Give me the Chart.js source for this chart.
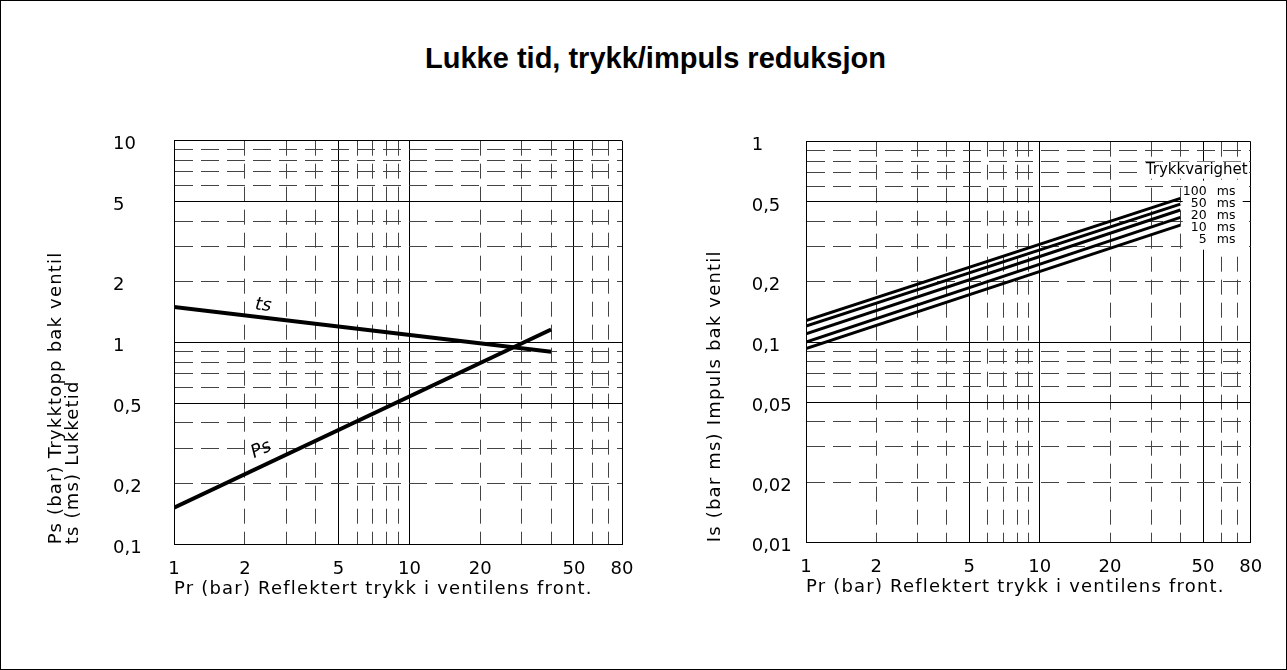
<!DOCTYPE html>
<html>
<head>
<meta charset="utf-8">
<script src="https://cdn.jsdelivr.net/npm/chart.js@4/dist/chart.umd.min.js"></script>
<style>
html, body { margin: 0; padding: 0; background: #fff; }
#frame { position: relative; width: 1287px; height: 670px; box-sizing: border-box; border: 1px solid #000; overflow: hidden; background: #fff; }
#title { position: absolute; left: 24px; top: 40px; width: 1261px; text-align: center; font: bold 29px 'Liberation Sans', Arial, sans-serif; color: #000; line-height: 34px; }
.wrap { position: absolute; }
canvas { display: block; }
</style>
</head>
<body>
<div id="frame">
  <div id="title">Lukke tid, trykk/impuls reduksjon</div>
  <div class="wrap" style="left:29px; top:99px;"><canvas id="leftChart" width="630" height="540"></canvas></div>
  <div class="wrap" style="left:659px; top:99px;"><canvas id="rightChart" width="626" height="540"></canvas></div>
</div>
<script>
// ---------------- DATA ----------------
// x: Pr (bar) Reflektert trykk i ventilens front.
const prPoints = [1, 40];
// left chart
const tsValues = [1.5, 0.9];     // ts (ms) Lukketid
const psValues = [0.152, 1.16];  // Ps (bar) Trykktopp bak ventil
// right chart: Is (bar ms) Impuls bak ventil, per Trykkvarighet
const impulsSeries = ['100 ms', '50 ms', '20 ms', '10 ms', '5 ms'];
const impuls100 = [0.128, 0.521];
const impuls50 = [0.120, 0.488];
const impuls20 = [0.110, 0.456];
const impuls10 = [0.100, 0.419];
const impuls5 = [0.0927, 0.383];

// tick / grid values
const xGrid = [1, 2, 3, 4, 5, 6, 7, 8, 9, 10, 20, 30, 40, 50, 60, 70, 80];
const xTickLabels = [1, 2, 5, 10, 20, 50, 80];
const xSolid = [1, 5, 10, 50, 80];
const yLeftGrid = [0.1, 0.2, 0.3, 0.4, 0.5, 0.6, 0.7, 0.8, 0.9, 1, 2, 3, 4, 5, 6, 7, 8, 9, 10];
const yLeftLabels = [0.1, 0.2, 0.5, 1, 2, 5, 10];
const yLeftSolid = [0.1, 0.5, 1, 5, 10];
const yRightGrid = [0.01, 0.02, 0.03, 0.04, 0.05, 0.06, 0.07, 0.08, 0.09, 0.1, 0.2, 0.3, 0.4, 0.5, 0.6, 0.7, 0.8, 0.9, 1];
const yRightLabels = [0.01, 0.02, 0.05, 0.1, 0.2, 0.5, 1];
const yRightSolid = [0.01, 0.05, 0.1, 0.5, 1];

const xTitle = 'Pr (bar) Reflektert trykk i ventilens front.';
const yLeftTitle = ['Ps (bar) Trykktopp bak ventil', 'ts (ms) Lukketid'];
const yRightTitle = 'Is (bar ms) Impuls bak ventil';
const legendTitle = 'Trykkvarighet';

// ---------------- HELPERS ----------------
const FAMILY = "'DejaVu Sans', sans-serif";
const FS = 18;
const fmt = v => String(v).replace('.', ',');
const near = (arr, v) => arr.some(a => Math.abs(a - v) <= Math.abs(a) * 1e-6);

function logAxis(min, max, gridVals, labelVals, solidVals, dash, extra) {
  return Object.assign({
    type: 'logarithmic',
    min: min, max: max,
    afterBuildTicks: ax => { ax.ticks = gridVals.map(v => ({ value: v })); },
    grid: {
      display: true,
      drawTicks: false,
      lineWidth: 1,
      color: c => (c.tick && near(solidVals, c.tick.value)) ? '#000' : '#444'
    },
    border: {
      display: true, color: '#000', width: 1,
      dash: c => (c.tick && !near(solidVals, c.tick.value)) ? dash : []
    },
    ticks: {
      z: 1,
      autoSkip: false, maxRotation: 0, minRotation: 0, color: '#000',
      font: { family: FAMILY, size: FS },
      callback: v => near(labelVals, v) ? fmt(v) : ''
    }
  }, extra || {});
}

function titleAxis(text, width, padTop, lineHeight) {
  return {
    type: 'linear', position: 'left', weight: 1, display: true,
    grid: { display: false, drawTicks: false },
    border: { display: false },
    ticks: { display: false },
    title: {
      display: true, text: text, align: 'start', color: '#000',
      font: { family: FAMILY, size: FS, lineHeight: lineHeight },
      padding: { top: padTop, bottom: 0 }
    },
    afterFit: ax => { ax.width = width; }
  };
}

function xAxis() {
  const a = logAxis(1, 80, xGrid, xTickLabels, xSolid, [15, 8], {
    position: 'bottom',
    title: {
      display: true, text: xTitle, align: 'start', color: '#000',
      font: { family: FAMILY, size: FS },
      padding: { top: 0, bottom: 4.5 }
    },
    afterFit: ax => { ax.height = 60; }
  });
  a.ticks.padding = 14;
  return a;
}

function yAxis(min, max, gridVals, labelVals, solidVals, width) {
  const a = logAxis(min, max, gridVals, labelVals, solidVals, [18, 8], {
    position: 'left', weight: 0,
    afterFit: ax => { ax.width = width; }
  });
  a.ticks.crossAlign = 'far';
  a.ticks.labelOffset = 4;
  return a;
}

// axis titles are drawn (grid layer) with wider letter spacing, tick labels without
const spacingPlugin = {
  id: 'spacing',
  beforeDraw(chart) { try { chart.ctx.letterSpacing = '1.2px'; } catch (e) {} },
  afterDatasetsDraw(chart) { try { chart.ctx.letterSpacing = '0px'; } catch (e) {} }
};

const curveLabelPlugin = {
  id: 'curveLabels',
  afterDatasetsDraw(chart) {
    const { ctx, scales: { x, y } } = chart;
    const labels = [
      { text: 'ts', values: tsValues, at: 2.36, off: 12 },
      { text: 'Ps', values: psValues, at: 2.5, off: 15 }
    ];
    ctx.save();
    try { ctx.letterSpacing = '0px'; } catch (e) {}
    ctx.font = "italic 18px " + FAMILY;
    ctx.fillStyle = '#000';
    ctx.textAlign = 'center';
    ctx.textBaseline = 'middle';
    labels.forEach(lab => {
      const x0 = x.getPixelForValue(prPoints[0]), y0 = y.getPixelForValue(lab.values[0]);
      const x1 = x.getPixelForValue(prPoints[1]), y1 = y.getPixelForValue(lab.values[1]);
      const ang = Math.atan2(y1 - y0, x1 - x0);
      const px = x.getPixelForValue(lab.at);
      const py = y0 + (px - x0) / (x1 - x0) * (y1 - y0);
      ctx.save();
      ctx.translate(px + Math.sin(ang) * lab.off, py - Math.cos(ang) * lab.off);
      ctx.rotate(ang);
      ctx.fillText(lab.text, 0, 0);
      ctx.restore();
    });
    ctx.restore();
  }
};

const durationLegendPlugin = {
  id: 'durationLegend',
  beforeDatasetsDraw(chart) {
    const { ctx, chartArea: a } = chart;
    ctx.save();
    try { ctx.letterSpacing = '0px'; } catch (e) {}
    ctx.fillStyle = '#fff';
    ctx.fillRect(a.right - 110, a.top + 20, 108, 17);
    ctx.fillRect(a.right - 68, a.top + 39, 60, 69);
    ctx.fillStyle = '#000';
    ctx.textBaseline = 'middle';
    ctx.font = "15px " + FAMILY;
    ctx.textAlign = 'right';
    ctx.fillText(legendTitle, a.right - 3, a.top + 28);
    ctx.font = "12.5px " + FAMILY;
    impulsSeries.forEach((name, i) => {
      const parts = name.split(' ');
      const yy = a.top + 50 + i * 12.1;
      ctx.textAlign = 'right';
      ctx.fillText(parts[0], a.right - 44, yy);
      ctx.textAlign = 'left';
      ctx.fillText(parts[1], a.right - 34, yy);
    });
    ctx.restore();
  }
};

function lineDataset(label, values, width) {
  return {
    label: label,
    data: prPoints.map((x, i) => ({ x: x, y: values[i] })),
    borderColor: '#000', backgroundColor: '#000',
    borderWidth: width, pointRadius: 0, fill: false, tension: 0,
    borderCapStyle: 'butt'
  };
}

const common = {
  responsive: false,
  animation: false,
  devicePixelRatio: 1,
  plugins: { legend: { display: false }, tooltip: { enabled: false }, title: { display: false } }
};

// ---------------- LEFT CHART ----------------
new Chart(document.getElementById('leftChart'), {
  type: 'line',
  data: { datasets: [lineDataset('ts', tsValues, 4), lineDataset('Ps', psValues, 4)] },
  options: Object.assign({}, common, {
    layout: { padding: { left: 0, right: 38, top: 40.7, bottom: 35.7 } },
    scales: {
      x: xAxis(),
      y: yAxis(0.1, 10, yLeftGrid, yLeftLabels, yLeftSolid, 61),
      yTitle: titleAxis(yLeftTitle, 83, 17.5, 0.95)
    }
  }),
  plugins: [spacingPlugin, curveLabelPlugin]
});

// ---------------- RIGHT CHART ----------------
const impulsValues = [impuls100, impuls50, impuls20, impuls10, impuls5];
new Chart(document.getElementById('rightChart'), {
  type: 'line',
  data: { datasets: impulsSeries.map((name, i) => lineDataset(name, impulsValues[i], 3)) },
  options: Object.assign({}, common, {
    layout: { padding: { left: 0, right: 35.3, top: 41.7, bottom: 37.7 } },
    scales: {
      x: xAxis(),
      y: yAxis(0.01, 1, yRightGrid, yRightLabels, yRightSolid, 54.3),
      yTitle: titleAxis(yRightTitle, 91.7, 44.2, 1.2)
    }
  }),
  plugins: [spacingPlugin, durationLegendPlugin]
});
</script>
</body>
</html>
